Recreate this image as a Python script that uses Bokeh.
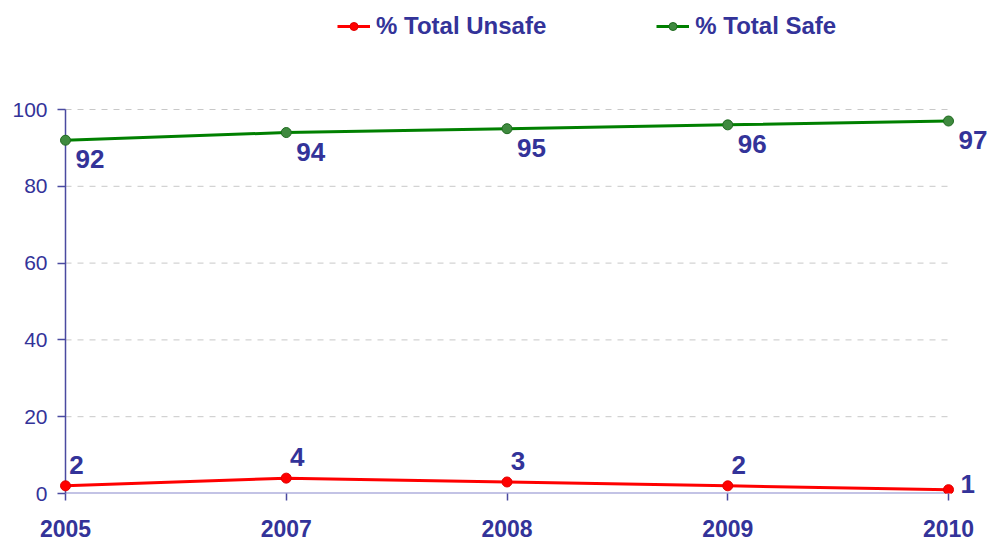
from bokeh.plotting import figure
from bokeh.models import (ColumnDataSource, FixedTicker, Range1d, LabelSet,
                          Legend, LegendItem)
from bokeh.core.properties import value
from bokeh.embed import file_html
from bokeh.resources import INLINE

years = ["2005", "2007", "2008", "2009", "2010"]
unsafe = [2, 4, 3, 2, 1]
safe = [92, 94, 95, 96, 97]
y_ticks = [0, 20, 40, 60, 80, 100]

TXT = "#333399"
FONT = "Liberation Sans"

n = len(years)
xs = list(range(n))
src_u = ColumnDataSource(dict(x=xs, y=unsafe, t=[str(v) for v in unsafe]))
src_s = ColumnDataSource(dict(x=xs, y=safe, t=[str(v) for v in safe]))
src_u_a = ColumnDataSource(dict(x=xs[:n-1], y=unsafe[:n-1], t=[str(v) for v in unsafe[:n-1]]))
src_u_b = ColumnDataSource(dict(x=xs[n-1:], y=unsafe[n-1:], t=[str(v) for v in unsafe[n-1:]]))

W, H = 988, 541
ppu_x = 220.75   # px per category step
ppu_y = 3.84     # px per y unit
frame_left, frame_bottom = 59, 493
x_start = -6 / ppu_x
x_end = (n - 1) + (W - 948) / ppu_x
y_end = frame_bottom / ppu_y

p = figure(width=W, height=H, output_backend="svg", toolbar_location=None,
           x_range=Range1d(x_start, x_end), y_range=Range1d(0, y_end),
           min_border_left=frame_left, min_border_right=0, min_border_top=0,
           min_border_bottom=H - frame_bottom)
p.outline_line_color = None
p.background_fill_color = "white"
p.border_fill_color = "white"
p.xgrid.visible = False
p.ygrid.visible = False

# gridlines
grid_y = [v for v in y_ticks if v > 0]
p.segment(x0=[0] * len(grid_y), x1=[n - 1] * len(grid_y), y0=grid_y, y1=grid_y,
          line_color="#c8c8c8", line_width=1, line_dash="6 6")

# axis lines
p.segment(x0=[0], x1=[n - 1], y0=[0], y1=[0], line_color="#8888cc", line_width=2)
p.segment(x0=[0], x1=[0], y0=[0], y1=[y_ticks[-1]], line_color="#4a4aa0", line_width=1.5)

# y axis
yax = p.yaxis[0]
yax.ticker = FixedTicker(ticks=y_ticks)
yax.axis_line_color = None
yax.major_tick_line_color = "#4a4aa0"
yax.major_tick_line_width = 1.5
yax.major_tick_in = 6
yax.major_tick_out = 2
yax.minor_tick_line_color = None
yax.major_label_text_color = TXT
yax.major_label_text_font = FONT
yax.major_label_text_font_size = "21px"
yax.major_label_standoff = 10

# x axis
xax = p.xaxis[0]
xax.ticker = FixedTicker(ticks=xs)
xax.major_label_overrides = {i: y for i, y in enumerate(years)}
xax.axis_line_color = None
xax.major_tick_line_color = "#4a4aa0"
xax.major_tick_line_width = 1.5
xax.major_tick_in = 0
xax.major_tick_out = 7
xax.minor_tick_line_color = None
xax.major_label_text_color = TXT
xax.major_label_text_font = FONT
xax.major_label_text_font_style = "bold"
xax.major_label_text_font_size = "23px"
xax.major_label_standoff = 19

# lines
lu = p.line("x", "y", source=src_u, line_color="#ff0000", line_width=3)
mu = p.scatter("x", "y", source=src_u, size=10, fill_color="#ff0000", line_color="#e00000")
ls = p.line("x", "y", source=src_s, line_color="#008000", line_width=3)
ms = p.scatter("x", "y", source=src_s, size=10, fill_color="#3f8a3f", line_color="#1f6a1f")

# data labels
common = dict(text_color=TXT, text_font=value(FONT), text_font_style="bold",
              text_font_size="26px", text_baseline="middle")
p.add_layout(LabelSet(x="x", y="y", text="t", source=src_s, x_offset=10, y_offset=-19,
                      text_align="left", **common))
p.add_layout(LabelSet(x="x", y="y", text="t", source=src_u_a, x_offset=11, y_offset=21,
                      text_align="center", **common))
p.add_layout(LabelSet(x="x", y="y", text="t", source=src_u_b, x_offset=12, y_offset=6,
                      text_align="left", **common))

legend = Legend(items=[LegendItem(label="% Total Unsafe", renderers=[lu, mu]),
                       LegendItem(label="% Total Safe", renderers=[ls, ms])],
                orientation="horizontal", location=(278, 453),
                padding=0, margin=0, spacing=110, glyph_width=33, glyph_height=20,
                label_standoff=6, border_line_color=None, background_fill_alpha=0,
                label_text_color=TXT, label_text_font=FONT, label_text_font_style="bold",
                label_text_font_size="24px")
p.add_layout(legend, "center")

open("out.html", "w").write(file_html(p, INLINE))
